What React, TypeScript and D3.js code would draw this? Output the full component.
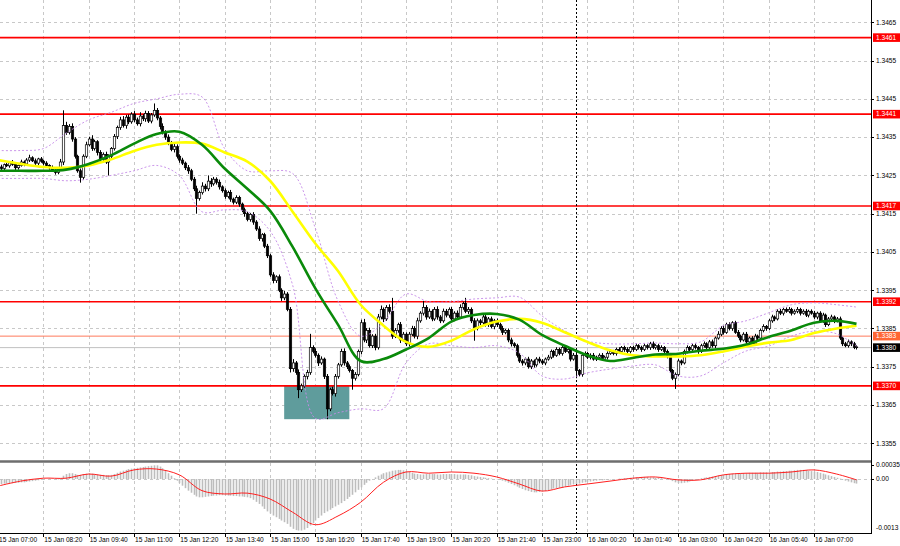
import React from 'react';
import * as d3 from 'd3';

// prices stored in points above 1.33000 (price = 1.33 + v / 100000)
const BASE = 1.33;
const POINT = 0.00001;

const firstOpen = 1270;
const closes = [
  1272,1268,1278,1275,1283,1279,1270,1276,1285,1280,1290,1296,1288,1282,1293,1287,
  1282,1276,1270,1262,1258,1266,1285,1380,1362,1378,1345,1300,1262,1245,1300,1330,
  1345,1320,1338,1310,1292,1305,1285,1300,1320,1352,1375,1395,1380,1402,1390,1410,
  1395,1385,1405,1398,1412,1392,1408,1420,1400,1378,1362,1350,1335,1318,1325,1300,
  1290,1282,1270,1262,1240,1215,1190,1205,1222,1215,1235,1228,1240,1232,1220,1210,
  1195,1205,1188,1180,1192,1175,1160,1150,1135,1148,1128,1110,1085,1095,1065,1040,
  990,975,985,950,930,940,900,745,760,735,690,700,725,735,800,790,
  780,760,770,725,640,690,680,725,755,790,760,750,740,720,730,790,
  865,820,845,805,830,800,880,900,875,905,895,830,845,860,820,835,
  810,835,850,830,870,890,905,880,895,875,900,880,870,895,885,900,
  875,890,880,905,915,895,900,870,850,870,865,880,860,875,855,870,
  860,850,840,845,820,810,805,780,765,760,770,750,765,755,770,765,
  760,770,775,790,780,795,785,800,790,795,770,780,740,730,780,785,
  775,780,770,775,780,770,775,785,790,785,795,790,800,795,790,800,
  795,805,800,795,805,800,810,800,805,795,800,790,780,740,720,730,
  765,760,790,800,795,805,800,790,805,810,800,815,805,825,835,850,
  840,860,850,865,840,830,820,835,815,825,810,830,825,845,855,850,
  870,880,875,895,890,900,895,900,890,895,900,890,895,885,895,890,
  880,890,870,885,860,875,880,870,875,825,810,805,815,810,800,802,
];
const upperWicks = [
  4,6,3,5,4,7,5,3,6,4,5,8,4,6,3,5,
  4,5,3,6,4,5,8,40,10,6,8,5,4,6,5,8,
  6,10,5,4,6,5,7,5,4,6,5,8,10,6,7,5,
  8,6,10,5,7,6,5,18,6,5,8,6,7,5,8,6,
  5,6,4,7,5,6,8,5,10,6,15,8,6,5,7,4,
  6,5,7,4,6,5,4,6,5,4,6,5,7,4,5,6,
  5,7,4,6,5,8,5,6,10,5,8,6,5,7,36,6,
  8,5,7,4,6,5,8,6,5,7,8,5,6,4,6,5,
  8,10,6,7,5,6,8,10,5,6,8,35,6,5,7,6,
  5,6,7,6,8,5,17,6,7,5,6,8,5,7,6,5,
  6,5,7,8,5,15,6,5,7,6,5,6,7,5,6,5,
  6,5,7,4,5,6,4,5,6,5,4,6,5,4,5,6,
  5,4,6,5,4,6,5,4,6,5,4,6,5,4,6,5,
  4,5,6,4,5,6,4,5,6,4,5,6,4,5,6,4,
  5,6,4,5,6,4,5,6,4,5,6,4,5,6,4,5,
  6,4,5,6,4,5,6,4,5,6,4,5,6,4,8,6,
  7,5,6,4,5,6,4,5,6,4,5,6,4,5,6,4,
  5,6,4,5,6,4,5,6,4,5,6,4,5,6,4,5,
  6,4,5,6,4,5,6,4,5,6,4,5,6,4,5,4,
];
const lowerWicks = [
  5,4,6,3,5,4,6,5,3,6,4,5,3,6,5,4,
  6,4,5,3,6,5,4,8,6,5,7,6,5,14,6,5,
  4,6,5,8,6,7,5,35,6,5,7,6,5,8,6,5,
  6,5,7,6,8,5,6,5,6,8,5,7,6,5,8,6,
  7,5,6,8,5,6,40,6,5,7,6,8,5,6,7,5,
  6,5,7,6,5,7,6,8,5,6,7,5,6,8,5,6,
  5,7,6,5,8,6,5,10,8,6,22,6,5,8,6,5,
  6,8,5,7,27,6,5,8,6,5,7,6,5,30,6,5,
  7,6,8,5,6,7,5,6,8,5,6,7,5,6,8,5,
  6,7,5,6,8,5,6,7,5,6,5,7,6,5,6,7,
  5,6,7,5,6,5,7,6,32,5,6,7,5,6,5,7,
  6,5,7,5,6,7,5,6,5,7,6,5,6,7,5,6,
  5,6,4,5,6,4,5,6,4,5,6,4,20,5,6,4,
  5,6,4,5,6,4,5,6,4,5,6,4,5,6,4,5,
  6,4,5,6,4,5,6,4,5,6,4,5,8,6,5,28,
  5,6,4,5,6,4,5,6,4,5,6,4,5,6,4,5,
  6,4,5,6,4,5,6,4,5,6,4,5,6,4,5,6,
  4,5,6,4,5,6,4,5,6,4,5,6,4,5,6,4,
  5,6,4,5,6,4,5,6,4,5,6,4,5,6,4,5,
];
// MACD histogram, in units of 0.00001
const macdHistogram = [
  -12,-12,-11,-11,-10,-10,-9,-9,-8,-8,-7,-6,-5,-4,-3,-2,
  -1,0,1,1,0,-1,2,8,12,14,14,12,10,10,12,13,
  14,13,12,11,10,10,9,9,10,12,15,18,20,22,24,25,
  26,27,28,29,30,31,32,33,33,30,26,20,14,8,2,-4,
  -10,-16,-22,-28,-33,-38,-42,-44,-44,-43,-42,-41,-40,-40,-39,-39,
  -39,-40,-40,-41,-41,-42,-42,-43,-44,-46,-50,-55,-60,-66,-72,-78,
  -83,-88,-92,-96,-100,-104,-108,-115,-120,-123,-124,-124,-122,-118,-112,-106,
  -100,-94,-88,-82,-78,-74,-70,-66,-62,-58,-53,-48,-43,-38,-32,-26,
  -20,-14,-9,-4,0,4,8,11,14,16,18,20,21,22,22,21,
  19,17,15,13,12,11,11,12,12,12,12,11,11,12,12,12,
  12,12,11,11,11,11,10,9,7,6,5,4,3,2,1,0,
  -1,-2,-4,-6,-9,-12,-15,-18,-21,-24,-27,-29,-31,-32,-32,-31,
  -30,-29,-27,-25,-23,-22,-21,-20,-18,-16,-14,-13,-12,-11,-9,-8,
  -7,-6,-5,-4,-3,-3,-2,-2,-1,-1,0,1,1,2,2,3,
  3,4,4,5,5,5,4,4,3,3,2,1,0,-2,-5,-8,
  -10,-10,-9,-8,-6,-4,-2,0,2,3,4,5,6,7,8,9,
  10,11,12,13,13,13,14,14,14,15,15,15,15,16,16,16,
  16,17,17,18,18,19,19,20,20,21,22,22,22,21,20,19,
  18,17,15,13,11,9,7,5,3,1,-2,-4,-6,-8,-10,-11,
];

// indicator readings every 8 bars (points above 1.33000)
const sampleStep = 8;
const greenMA = [1262,1262,1262,1265,1280,1303,1333,1358,1364,1330,1268,1215,1158,1063,955,860,765,770,795,825,868,885,888,873,833,805,780,765,773,782,784,792,797,808,828,845,865,870,862];
const yellowMA = [1290,1280,1272,1270,1276,1292,1314,1330,1336,1333,1310,1286,1236,1155,1072,1000,912,858,815,802,818,848,868,875,865,840,815,793,780,777,777,780,790,803,813,820,838,850,857];
const bandUpper = [1315,1315,1320,1360,1395,1415,1438,1450,1462,1455,1320,1262,1262,1255,1112,922,830,865,940,920,920,927,930,932,883,844,817,810,810,812,810,815,857,870,891,912,917,912,906];
const bandLower = [1242,1242,1242,1236,1240,1250,1262,1276,1250,1155,1160,1155,1105,963,615,630,640,640,760,810,805,800,805,786,726,718,734,744,752,755,726,726,760,791,804,830,843,836,804];
// MACD signal, units of 0.00001, every 8 bars
const macdSignal = [-17,-5,2,2,12,7,22,24,10,-28,-36,-34,-48,-80,-110,-89,-56,-8,17,14,17,14,5,-12,-29,-19,-12,-5,2,5,-2,-2,10,14,14,17,22,12,-2];

const priceTicks = [1.3465,1.3455,1.3445,1.3435,1.3425,1.3415,1.3405,1.3395,1.3385,1.3375,1.3365,1.3355];
const timeLabels = ['15 Jan 07:00','15 Jan 08:20','15 Jan 09:40','15 Jan 11:00','15 Jan 12:20','15 Jan 13:40','15 Jan 15:00','15 Jan 16:20','15 Jan 17:40','15 Jan 19:00','15 Jan 20:20','15 Jan 21:40','15 Jan 23:00','16 Jan 00:20','16 Jan 01:40','16 Jan 03:00','16 Jan 04:20','16 Jan 05:40','16 Jan 07:00'];
const labelStep = 16;
const levelLines = [1.3461, 1.3441, 1.3417, 1.3392, 1.3370];
const askPrice = 1.3383;
const bidPrice = 1.3380;
const dayBreakBar = 204;
const zoneBars = [101, 124];
const zonePrices = [1.3370, 1.33613];
const macdTicks = [0.00035, 0];
const macdTickLabels = ['0.00035', '0.00'];
const macdMin = -0.0013;
const macdMinLabel = '-0.0013';

const FONT = '"Liberation Sans", Arial, sans-serif';

export default function App() {
  const W = 900, H = 546;
  const plotRight = 871;
  const mainBottom = 460;
  const macdTop = 463, macdBottom = 533;
  const n = closes.length;

  const x = d3.scaleLinear().domain([0, 288]).range([-2, 814]);
  const y = d3.scaleLinear().domain([1.3355, 1.3465]).range([443.3, 22.3]);
  const ym = d3.scaleLinear().domain([macdMin, 0.00035]).range([macdBottom, 464.5]);
  const toP = (v: number) => BASE + v * POINT;
  const sx = (k: number) => x(Math.min(k * sampleStep, n - 1));

  const bars = closes.map((c, i) => {
    const o = i === 0 ? firstOpen : closes[i - 1];
    const h = Math.max(o, c) + upperWicks[i];
    const l = Math.min(o, c) - lowerWicks[i];
    return { i, o: toP(o), c: toP(c), h: toP(h), l: toP(l) };
  });

  const priceLine = d3.line<number>()
    .x((_, k) => sx(k))
    .y(d => y(toP(d)))
    .curve(d3.curveCatmullRom.alpha(0.5));
  const sigLine = d3.line<number>()
    .x((_, k) => sx(k))
    .y(d => ym(d * POINT))
    .curve(d3.curveCatmullRom.alpha(0.5));

  const tickBars = timeLabels.map((_, k) => k * labelStep);

  const labelBox = (p: number, fill: string, key: string) => (
    <g key={key}>
      <rect x={873} y={y(p) - 4.3} width={27} height={8.6} fill={fill} />
      <text x={876} y={y(p)} dy="0.35em" fontSize={6.6} fill="#fff" fontFamily={FONT}>{p.toFixed(4)}</text>
    </g>
  );

  return (
    <svg width={W} height={H} style={{ position: 'absolute', left: 0, top: 0, display: 'block', background: '#fff' }}>
      <defs>
        <clipPath id="mainClip"><rect x={0} y={0} width={plotRight} height={mainBottom} /></clipPath>
        <clipPath id="macdClip"><rect x={0} y={macdTop} width={plotRight} height={macdBottom - macdTop} /></clipPath>
      </defs>
      <rect x={0} y={0} width={W} height={H} fill="#fff" />

      {/* grid main */}
      <g stroke="#c8c8c8" strokeWidth={1} strokeDasharray="3,3">
        {priceTicks.map(p => (
          <line key={'hg' + p} x1={0} x2={plotRight} y1={Math.round(y(p)) + 0.5} y2={Math.round(y(p)) + 0.5} />
        ))}
        {tickBars.map(b => (
          <line key={'vg' + b} x1={Math.round(x(b)) + 0.5} x2={Math.round(x(b)) + 0.5} y1={0} y2={mainBottom} />
        ))}
        {tickBars.map(b => (
          <line key={'vgm' + b} x1={Math.round(x(b)) + 0.5} x2={Math.round(x(b)) + 0.5} y1={macdTop} y2={macdBottom} />
        ))}
        <line x1={0} x2={plotRight} y1={Math.round(ym(0)) + 0.5} y2={Math.round(ym(0)) + 0.5} />
      </g>

      {/* zone */}
      <rect x={x(zoneBars[0])} y={y(zonePrices[0])} width={x(zoneBars[1]) - x(zoneBars[0])}
        height={y(zonePrices[1]) - y(zonePrices[0])} fill="#5f9c9c" />

      {/* level lines */}
      <g clipPath="url(#mainClip)">
        {levelLines.map(p => (
          <line key={'lv' + p} x1={0} x2={plotRight} y1={y(p)} y2={y(p)} stroke="#ff0000" strokeWidth={1.6} />
        ))}
        <line x1={0} x2={plotRight} y1={y(askPrice)} y2={y(askPrice)} stroke="#ff7a5c" strokeWidth={1} />
        <line x1={0} x2={plotRight} y1={y(bidPrice)} y2={y(bidPrice)} stroke="#c0c0c0" strokeWidth={1} />
      </g>

      {/* day separator */}
      <line x1={Math.round(x(dayBreakBar)) + 0.5} x2={Math.round(x(dayBreakBar)) + 0.5} y1={0} y2={macdBottom}
        stroke="#000" strokeWidth={1} strokeDasharray="2,2" />

      {/* candles */}
      <g clipPath="url(#mainClip)">
        {bars.map(b => {
          const cx = Math.round(x(b.i)) + 0.5;
          const top = y(Math.max(b.o, b.c));
          const bot = y(Math.min(b.o, b.c));
          const up = b.c >= b.o;
          return (
            <g key={'c' + b.i}>
              <line x1={cx} x2={cx} y1={y(b.h)} y2={y(b.l)} stroke="#000" strokeWidth={1} />
              <rect x={cx - 1.2} y={top} width={2.4} height={Math.max(bot - top, 0.8)}
                fill={up ? '#fff' : '#000'} stroke="#000" strokeWidth={0.7} />
            </g>
          );
        })}
      </g>

      {/* bands and MAs */}
      <g clipPath="url(#mainClip)" fill="none">
        <path d={priceLine(bandUpper) || ''} stroke="#c58be8" strokeWidth={0.9} strokeDasharray="2,2" />
        <path d={priceLine(bandLower) || ''} stroke="#c58be8" strokeWidth={0.9} strokeDasharray="2,2" />
        <path d={priceLine(yellowMA) || ''} stroke="#ffff00" strokeWidth={2.6} />
        <path d={priceLine(greenMA) || ''} stroke="#0a8a0a" strokeWidth={2.6} />
      </g>

      {/* panel separator */}
      <line x1={0} x2={plotRight} y1={461.5} y2={461.5} stroke="#6e6e6e" strokeWidth={2.5} />

      {/* MACD */}
      <g clipPath="url(#macdClip)">
        {macdHistogram.map((v, i) => (
          <line key={'h' + i} x1={Math.round(x(i)) + 0.5} x2={Math.round(x(i)) + 0.5}
            y1={ym(0)} y2={ym(v * POINT)} stroke="#bdbdbd" strokeWidth={1.6} />
        ))}
        <path d={sigLine(macdSignal) || ''} fill="none" stroke="#ff2020" strokeWidth={1} />
      </g>

      {/* frame */}
      <line x1={plotRight + 0.5} x2={plotRight + 0.5} y1={0} y2={macdBottom} stroke="#000" strokeWidth={1} />
      <line x1={0} x2={plotRight + 1} y1={macdBottom + 0.5} y2={macdBottom + 0.5} stroke="#000" strokeWidth={1} />

      {/* price axis */}
      <g fontFamily={FONT} fontSize={6.6} fill="#000">
        {priceTicks.map(p => (
          <g key={'pt' + p}>
            <line x1={plotRight} x2={plotRight + 3} y1={Math.round(y(p)) + 0.5} y2={Math.round(y(p)) + 0.5} stroke="#000" />
            <text x={876} y={y(p)} dy="0.35em">{p.toFixed(4)}</text>
          </g>
        ))}
        {macdTicks.map((v, k) => (
          <g key={'mt' + k}>
            <line x1={plotRight} x2={plotRight + 3} y1={Math.round(ym(v)) + 0.5} y2={Math.round(ym(v)) + 0.5} stroke="#000" />
            <text x={876} y={ym(v)} dy="0.35em">{macdTickLabels[k]}</text>
          </g>
        ))}
        <text x={876} y={ym(macdMin) - 5} dy="0.35em">{macdMinLabel}</text>
      </g>

      {levelLines.map(p => labelBox(p, '#ff0000', 'lb' + p))}
      {labelBox(askPrice, '#ff6633', 'ask')}
      {labelBox(bidPrice, '#000000', 'bid')}

      {/* time axis */}
      <g fontFamily={FONT} fontSize={6.6} fill="#000">
        {tickBars.map((b, k) => (
          <g key={'tl' + b}>
            <line x1={Math.round(x(b)) + 0.5} x2={Math.round(x(b)) + 0.5} y1={macdBottom} y2={macdBottom + 4} stroke="#000" />
            <text x={x(b) + 1} y={542}>{timeLabels[k]}</text>
          </g>
        ))}
      </g>
    </svg>
  );
}
